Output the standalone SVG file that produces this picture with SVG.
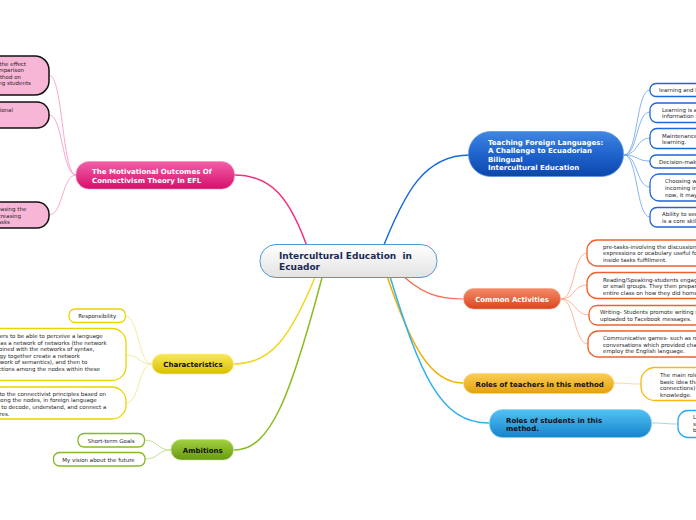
<svg xmlns="http://www.w3.org/2000/svg" width="696" height="520" viewBox="0 0 696 520">
<defs>
<linearGradient id="gCenter" x1="0" y1="0" x2="0" y2="1"><stop offset="0" stop-color="#ffffff"/><stop offset="1" stop-color="#e2e2e2"/></linearGradient>
<linearGradient id="gBlue" x1="0" y1="0" x2="0" y2="1"><stop offset="0" stop-color="#3f86e4"/><stop offset="0.5" stop-color="#1f64cc"/><stop offset="1" stop-color="#0b46ac"/></linearGradient>
<linearGradient id="gOrange" x1="0" y1="0" x2="0" y2="1"><stop offset="0" stop-color="#f58a68"/><stop offset="1" stop-color="#d9461e"/></linearGradient>
<linearGradient id="gGold" x1="0" y1="0" x2="0" y2="1"><stop offset="0" stop-color="#fccd55"/><stop offset="1" stop-color="#e3a10e"/></linearGradient>
<linearGradient id="gSky" x1="0" y1="0" x2="0" y2="1"><stop offset="0" stop-color="#52c2f4"/><stop offset="1" stop-color="#1684cc"/></linearGradient>
<linearGradient id="gPink" x1="0" y1="0" x2="0" y2="1"><stop offset="0" stop-color="#f25fa8"/><stop offset="1" stop-color="#d60f6c"/></linearGradient>
<linearGradient id="gYellow" x1="0" y1="0" x2="0" y2="1"><stop offset="0" stop-color="#f9e85a"/><stop offset="1" stop-color="#d8c000"/></linearGradient>
<linearGradient id="gGreen" x1="0" y1="0" x2="0" y2="1"><stop offset="0" stop-color="#a2d040"/><stop offset="1" stop-color="#679a12"/></linearGradient>
</defs>
<style>
text{font-family:"DejaVu Sans",Verdana,sans-serif}
.main{font-size:7px;font-weight:bold}
.sub{font-size:5.5px;fill:#1e1e1e}
.w{fill:#ffffff}
.k{fill:#111111}
.box{fill:#ffffff;stroke-width:1.3}
.c{fill:none}
</style>

<g id="connectors">
<path class="c" d="M380 255 C405 190,425 155,470 155" stroke="#1a6ad6" stroke-width="1.5"/>
<path class="c" d="M310 255 C290 195,270 175,234 175" stroke="#f0307f" stroke-width="1.5"/>
<path class="c" d="M395 268 C420 295,440 299,463 299" stroke="#f07050" stroke-width="1.2"/>
<path class="c" d="M385 270 C410 345,430 383,463 383" stroke="#f0b000" stroke-width="1.5"/>
<path class="c" d="M388 270 C420 375,440 423,489 423" stroke="#30b0f0" stroke-width="1.5"/>
<path class="c" d="M318 270 C290 340,270 364,234 364" stroke="#f0d820" stroke-width="1.5"/>
<path class="c" d="M324 270 C290 400,270 450,234 450" stroke="#8cbc22" stroke-width="1.5"/>
<g stroke="#6aa2ea" stroke-width="0.8" fill="none">
<path d="M624 155 C638 155,636 90,650 90"/>
<path d="M624 155 C638 155,636 112,650 112"/>
<path d="M624 155 C638 155,636 138,650 138"/>
<path d="M624 155 C638 155,636 161,650 161"/>
<path d="M624 155 C638 155,636 187,650 187"/>
<path d="M624 155 C638 155,636 217,650 217"/>
</g>
<g stroke="#f8a488" stroke-width="0.8" fill="none">
<path d="M561 299 C575 299,573 253,587 253"/>
<path d="M561 299 C575 299,573 285,587 285"/>
<path d="M561 299 C575 299,575 315,589 315"/>
<path d="M561 299 C575 299,574 344,588 344"/>
</g>
<path d="M614 383 C627 383,628 384,641 384" stroke="#f8d070" stroke-width="0.8" fill="none"/>
<path d="M652 423 C665 423,665 424,678 424" stroke="#80c8f0" stroke-width="0.8" fill="none"/>
<g stroke="#f890c0" stroke-width="0.8" fill="none">
<path d="M76 175 C62 175,63 75,49 75"/>
<path d="M76 175 C62 175,63 115,49 115"/>
<path d="M76 175 C62 175,63 215,49 215"/>
</g>
<g stroke="#f0e488" stroke-width="0.8" fill="none">
<path d="M152 364 C138 364,139 316,125 316"/>
<path d="M152 364 C138 364,140 355,126 355"/>
<path d="M152 364 C138 364,140 403,126 403"/>
</g>
<g stroke="#b8d878" stroke-width="0.8" fill="none">
<path d="M171 450 C157 450,158 440,144 440"/>
<path d="M171 450 C157 450,159 459,145 459"/>
</g>
</g>

<g id="center">
<rect x="260" y="244.5" width="177" height="33" rx="16" fill="url(#gCenter)" stroke="#4a9ad4" stroke-width="1"/>
<text x="279" y="259" font-size="9" font-weight="bold" fill="#1b2a55">Intercultural Education &#160;in</text>
<text x="279" y="269.5" font-size="9" font-weight="bold" fill="#1b2a55">Ecuador</text>
</g>

<g id="teaching">
<rect x="468.5" y="131.5" width="155" height="45" rx="22" fill="url(#gBlue)" stroke="#5b95e0" stroke-width="0.8"/>
<text class="main w" x="488" y="145">Teaching Foreign Languages:</text>
<text class="main w" x="488" y="153">A Challenge to Ecuadorian</text>
<text class="main w" x="488" y="161.5">Bilingual</text>
<text class="main w" x="488" y="169.5">Intercultural Education</text>
</g>
<g id="t1"><rect class="box" x="650" y="83.5" width="60" height="13" rx="6" stroke="#1f66d6"/><text class="sub" x="659" y="92">learning and knowledge rests in diversity of opinions.</text></g>
<g id="t2"><rect class="box" x="650" y="103" width="60" height="19.5" rx="7" stroke="#1f66d6"/><text class="sub" x="662" y="111.5">Learning is a process of connecting specialized nodes or</text><text class="sub" x="662" y="118">information sources.</text></g>
<g id="t3"><rect class="box" x="650" y="128.5" width="60" height="20" rx="7" stroke="#1f66d6"/><text class="sub" x="662" y="137.5">Maintenance and nurturing connections is needed to facilitate continual</text><text class="sub" x="662" y="144">learning.</text></g>
<g id="t4"><rect class="box" x="650" y="155" width="60" height="13" rx="6" stroke="#1f66d6"/><text class="sub" x="659" y="163.5">Decision-making is itself a learning process.</text></g>
<g id="t5"><rect class="box" x="650" y="174" width="60" height="27" rx="9" stroke="#1f66d6"/><text class="sub" x="665" y="183">Choosing what to learn and the meaning of</text><text class="sub" x="665" y="190">incoming information is seen through the lens of a shifting reality.</text><text class="sub" x="665" y="196.5">now, it may be wrong tomorrow.</text></g>
<g id="t6"><rect class="box" x="650" y="207.5" width="60" height="19.5" rx="7" stroke="#1f66d6"/><text class="sub" x="662" y="216">Ability to see connections between fields, ideas, and concepts</text><text class="sub" x="662" y="222.5">is a core skill.</text></g>

<g id="activities">
<rect x="463.5" y="288.5" width="97" height="20.5" rx="10" fill="url(#gOrange)" stroke="#f7a080" stroke-width="0.6"/>
<text class="main w" x="512" y="302" text-anchor="middle">Common Activities</text>
</g>
<g id="a1"><rect class="box" x="587" y="240" width="120" height="26" rx="10" stroke="#f0602a"/><text class="sub" x="603" y="248.5">pre-tasks-involving the discussion of useful</text><text class="sub" x="603" y="255">expressions or ocabulary useful for</text><text class="sub" x="603" y="261.7">inside tasks fulfillment.</text></g>
<g id="a2"><rect class="box" x="587" y="272.5" width="120" height="26" rx="10" stroke="#f0602a"/><text class="sub" x="603" y="282">Reading/Speaking-students engaged in pairs</text><text class="sub" x="603" y="288.3">or small groups. They then prepared to report to the</text><text class="sub" x="603" y="294.5">entire class on how they did homework.</text></g>
<g id="a3"><rect class="box" x="589" y="305.5" width="120" height="19.5" rx="8" stroke="#f0602a"/><text class="sub" x="600" y="313.5">Writing- Students promote writing skills through</text><text class="sub" x="600" y="321">uploaded to Facebook messages.</text></g>
<g id="a4"><rect class="box" x="588" y="331" width="120" height="26" rx="10" stroke="#f0602a"/><text class="sub" x="603" y="340">Communicative games- such as role plays and</text><text class="sub" x="603" y="346.5">conversations which provided chances to</text><text class="sub" x="603" y="353">employ the English language.</text></g>

<g id="teachers">
<rect x="463.5" y="373.5" width="150.5" height="20" rx="10" fill="url(#gGold)" stroke="#fad77a" stroke-width="0.6"/>
<text class="main k" x="475.5" y="386.7">Roles of teachers in this method</text>
</g>
<g id="r1"><rect class="box" x="641" y="367.5" width="70" height="33" rx="14" stroke="#f8b810"/><text class="sub" x="660" y="377">The main role of the teacher</text><text class="sub" x="660" y="383.5">basic idea that knowledge</text><text class="sub" x="660" y="390">connections) in the network</text><text class="sub" x="660" y="396.5">knowledge.</text></g>

<g id="students">
<rect x="489.5" y="409.5" width="162" height="28" rx="13" fill="url(#gSky)" stroke="#8ad4f6" stroke-width="0.6"/>
<text class="main k" x="506" y="422.5">Roles of students in this</text>
<text class="main k" x="506" y="431">method.</text>
</g>
<g id="s1"><rect class="box" x="678" y="410.5" width="40" height="27" rx="10" stroke="#28a8f0"/><text class="sub" x="693" y="419">Learners</text><text class="sub" x="693" y="425.5">should</text><text class="sub" x="693" y="432">be</text></g>

<g id="motivational">
<rect x="76" y="161.5" width="158.5" height="27.5" rx="13" fill="url(#gPink)" stroke="#f68cc0" stroke-width="0.6"/>
<text class="main w" x="92" y="174">The Motivational Outcomes Of</text>
<text class="main w" x="92" y="182.7">Connectivism Theory In EFL</text>
</g>
<g id="m1"><rect x="-30" y="56" width="79" height="39" rx="14" fill="#f8b6d6" stroke="#111" stroke-width="1.5"/><text class="sub" text-anchor="end" x="26" y="65.5">To determine the effect</text><text class="sub" text-anchor="end" x="24" y="72">of connectivism in comparison</text><text class="sub" text-anchor="end" x="21" y="78.5">to the traditional method on</text><text class="sub" text-anchor="end" x="31" y="85">motivating students</text></g>
<g id="m2"><rect x="-30" y="102" width="79" height="26" rx="12" fill="#f8b6d6" stroke="#111" stroke-width="1.5"/><text class="sub" text-anchor="end" x="13" y="111.5">Motivational</text></g>
<g id="m3"><rect x="-30" y="202" width="79" height="26" rx="12" fill="#f8b6d6" stroke="#111" stroke-width="1.5"/><text class="sub" text-anchor="end" x="26.3" y="211.3">by increasing the</text><text class="sub" text-anchor="end" x="21" y="217.7">motivation and decreasing</text><text class="sub" text-anchor="end" x="10" y="224.2">tasks</text></g>

<g id="characteristics">
<rect x="152" y="354" width="81.5" height="20" rx="10" fill="url(#gYellow)" stroke="#f6ec90" stroke-width="0.6"/>
<text class="main k" x="193" y="366.8" text-anchor="middle">Characteristics</text>
</g>
<g id="c1"><rect class="box" x="69" y="309" width="56.5" height="13.5" rx="6" stroke="#ecd400"/><text class="sub" x="97.2" y="318" text-anchor="middle">Responsibility</text></g>
<g id="c2"><rect class="box" x="-30" y="328.5" width="156" height="52" rx="14" stroke="#ecd400"/>
<text class="sub" text-anchor="end" x="102.7" y="338">learners to be able to perceive a language</text>
<text class="sub" text-anchor="end" x="106.7" y="344.5">system as a network of networks (the network</text>
<text class="sub" text-anchor="end" x="94.3" y="351">of phonology combined with the networks of syntax,</text>
<text class="sub" text-anchor="end" x="80" y="357.5">morphology and lexicology together create a network</text>
<text class="sub" text-anchor="end" x="87.3" y="364">of syntax, a network of semantics), and then to</text>
<text class="sub" text-anchor="end" x="100" y="370.5">make connections among the nodes within these</text></g>
<g id="c3"><rect class="box" x="-30" y="387" width="156" height="32" rx="14" stroke="#ecd400"/>
<text class="sub" text-anchor="end" x="106" y="395.7">According to the connectivist principles based on</text>
<text class="sub" text-anchor="end" x="96.7" y="402.3">connections among the nodes, in foreign language</text>
<text class="sub" text-anchor="end" x="106.3" y="409.3">learning learners have to decode, understand, and connect a</text>
<text class="sub" text-anchor="end" x="9.5" y="416">structures.</text></g>

<g id="ambitions">
<rect x="171" y="439.5" width="62.5" height="20.5" rx="10" fill="url(#gGreen)" stroke="#c4e08a" stroke-width="0.6"/>
<text class="main k" x="202.7" y="452.8" text-anchor="middle">Ambitions</text>
</g>
<g id="g1"><rect class="box" x="78" y="433.5" width="66.5" height="13.5" rx="6" stroke="#88b828"/><text class="sub" x="111.2" y="443" text-anchor="middle">Short-term Goals</text></g>
<g id="g2"><rect class="box" x="53.5" y="452.5" width="91.5" height="13.5" rx="6" stroke="#88b828"/><text class="sub" x="98.5" y="462" text-anchor="middle">My vision about the future</text></g>
</svg>
